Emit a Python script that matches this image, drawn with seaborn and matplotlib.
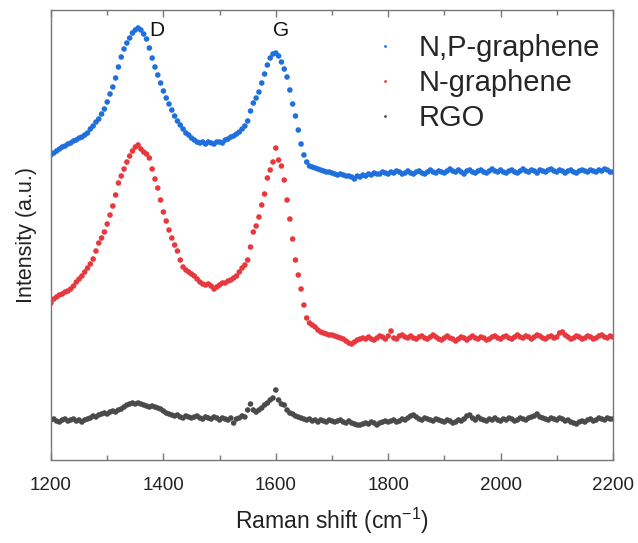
import numpy as np
import pandas as pd
import seaborn as sns
import matplotlib.pyplot as plt
from matplotlib.ticker import MultipleLocator

# Raman shift grid (cm^-1), one reading every 5 cm^-1
shift = np.arange(1200, 2201, 5)

# Offset spectra, intensity in arbitrary units
np_graphene = [
    305, 307, 309, 311, 313, 314, 316, 317, 319, 320,
    322, 323, 325, 327, 331, 334, 338, 341, 346, 351,
    358, 366, 373, 382, 393, 403, 411, 417, 422, 427,
    430, 432, 430, 426, 421, 412, 402, 393, 385, 377,
    369, 362, 356, 350, 344, 339, 335, 331, 327, 325,
    322, 320, 318, 317, 318, 316, 318, 317, 316, 318,
    318, 317, 320, 321, 323, 324, 326, 328, 331, 334,
    339, 349, 357, 362, 368, 377, 386, 395, 402, 406,
    407, 404, 398, 391, 383, 370, 356, 344, 330, 316,
    305, 298, 294, 293, 292, 291, 290, 289, 288, 288,
    287, 286, 285, 286, 285, 284, 284, 283, 281, 284,
    283, 285, 284, 286, 285, 287, 286, 286, 288, 287,
    286, 288, 287, 289, 288, 286, 287, 289, 287, 286,
    288, 289, 287, 286, 288, 290, 288, 287, 289, 288,
    287, 289, 291, 289, 288, 290, 288, 286, 289, 290,
    288, 287, 289, 290, 288, 287, 289, 291, 289, 288,
    290, 288, 287, 289, 290, 288, 287, 289, 291, 289,
    288, 290, 289, 287, 290, 289, 288, 290, 291, 289,
    288, 290, 289, 287, 289, 290, 288, 287, 289, 290,
    289, 288, 290, 289, 288, 290, 289, 291, 290, 288,
    288,
]

n_graphene = [
    157, 161, 163, 165, 166, 168, 169, 171, 174, 178,
    181, 184, 188, 192, 196, 201, 209, 217, 222, 228,
    236, 245, 254, 265, 277, 284, 291, 298, 304, 309,
    313, 315, 311, 308, 306, 302, 291, 281, 272, 260,
    248, 239, 230, 222, 215, 209, 200, 193, 190, 188,
    186, 184, 181, 178, 176, 175, 176, 174, 171, 173,
    175, 177, 177, 179, 180, 182, 184, 188, 192, 195,
    200, 213, 228, 234, 243, 255, 266, 282, 290, 298,
    312, 300, 294, 280, 260, 241, 221, 200, 185, 171,
    155, 142, 137, 135, 133, 130, 128, 127, 126, 125,
    125, 124, 123, 122, 121, 119, 117, 116, 118, 120,
    121, 122, 121, 123, 121, 120, 122, 124, 123, 121,
    124, 129, 122, 121, 124, 125, 123, 122, 124, 122,
    121, 123, 124, 122, 121, 123, 125, 123, 121, 120,
    122, 124, 122, 121, 119, 121, 123, 122, 120, 122,
    124, 122, 121, 123, 122, 120, 121, 123, 124, 122,
    121, 123, 124, 122, 121, 123, 125, 123, 122, 124,
    123, 121, 123, 125, 124, 122, 121, 123, 124, 122,
    123, 127, 128, 125, 123, 121, 122, 124, 123, 121,
    122, 124, 123, 121, 122, 124, 125, 123, 122, 124,
    123,
]

rgo = [
    40, 41, 39, 38, 40, 41, 39, 40, 41, 39,
    40, 38, 40, 41, 42, 44, 43, 45, 46, 47,
    46, 48, 49, 48, 50, 51, 53, 55, 56, 57,
    56, 57, 56, 55, 54, 53, 54, 53, 52, 51,
    49, 47, 46, 45, 44, 45, 43, 42, 44, 43,
    42, 43, 44, 42, 41, 43, 42, 41, 43, 42,
    40, 42, 41, 40, 42, 37, 41, 42, 44, 43,
    50, 56, 50, 48, 50, 52, 55, 57, 60, 62,
    70, 60, 56, 55, 50, 47, 46, 44, 43, 42,
    41, 40, 41, 39, 40, 38, 40, 39, 38, 40,
    39, 38, 39, 40, 38, 37, 39, 37, 36, 35,
    35, 36, 37, 36, 38, 37, 35, 37, 38, 39,
    38, 39, 40, 38, 39, 41, 40, 42, 44, 45,
    43, 41, 40, 42, 41, 40, 39, 41, 40, 39,
    38, 40, 39, 37, 38, 40, 39, 41, 44, 45,
    42, 40, 43, 41, 40, 39, 41, 40, 42, 40,
    39, 41, 40, 42, 41, 39, 40, 42, 41, 40,
    42, 43, 44, 46, 43, 42, 41, 40, 42, 41,
    40, 42, 41, 39, 40, 38, 37, 36, 38, 39,
    38, 40, 41, 39, 40, 42, 41, 40, 42, 41,
    41,
]

samples = ["N,P-graphene", "N-graphene", "RGO"]
colors = ["#1f6fdc", "#e8383d", "#4a4a4a"]
band_labels = ["D", "G"]
band_positions = [1389, 1609]

series = [np_graphene, n_graphene, rgo]
assert all(len(s) == len(shift) for s in series)

df = pd.DataFrame({
    "shift": np.tile(shift, len(samples)),
    "intensity": np.concatenate([np.asarray(s, float) for s in series]),
    "sample": np.repeat(samples, len(shift)),
})

sns.set_style("ticks")
plt.rcParams["font.family"] = ["Liberation Sans", "DejaVu Sans"]
plt.rcParams["mathtext.fontset"] = "custom"
plt.rcParams["mathtext.rm"] = "Liberation Sans"
plt.rcParams["mathtext.default"] = "regular"

fig = plt.figure(figsize=(6.38, 5.43), dpi=100)
ax = fig.add_axes([51 / 638, 83 / 543, 562 / 638, 450 / 543])

sns.scatterplot(data=df, x="shift", y="intensity", hue="sample",
                hue_order=samples, palette=colors, s=16, linewidth=0,
                edgecolor="none", ax=ax, legend=True)

ax.set_xlim(1200, 2200)
ax.set_ylim(0, 450)
ax.xaxis.set_major_locator(MultipleLocator(200))
ax.xaxis.set_minor_locator(MultipleLocator(100))
ax.set_yticks([])
ax.tick_params(which="both", direction="in", top=True, bottom=True,
               left=False, right=False, colors="#777777",
               labelcolor="#222222", labelsize=13.5, width=1, pad=12)
ax.tick_params(which="major", length=5)
ax.tick_params(which="minor", length=3.5)
for sp in ax.spines.values():
    sp.set_visible(True)
    sp.set_color("#777777")
    sp.set_linewidth(1)

ax.set_xlabel("Raman shift (cm$^{-1}$)", fontsize=16.5, color="#222222", labelpad=9)
ax.set_ylabel("Intensity (a.u.)", fontsize=15.5, color="#222222", labelpad=10)

for lab, pos in zip(band_labels, band_positions):
    ax.text(pos, 424, lab, ha="center", va="baseline", fontsize=15, color="#111111")

handles, labels = ax.get_legend_handles_labels()
ax.legend(handles, labels, loc="upper left", bbox_to_anchor=(0.5685, 0.947),
          frameon=False, fontsize=21, borderpad=0, handlelength=1.0,
          handletextpad=0.64, labelspacing=0.25, markerscale=0.5,
          borderaxespad=0)

fig.savefig("out.png", dpi=100)
